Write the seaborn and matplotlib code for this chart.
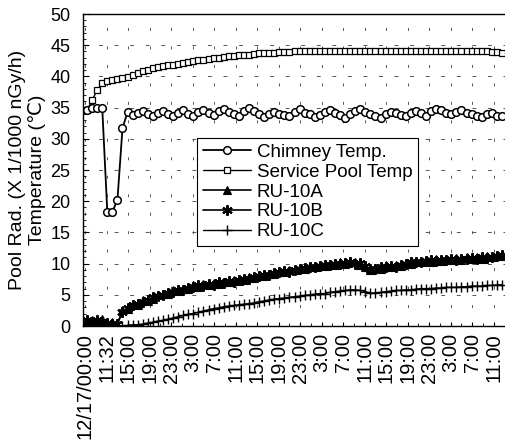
import numpy as np
import matplotlib
matplotlib.use("Agg")
import matplotlib.pyplot as plt
import seaborn as sns
from matplotlib.ticker import MultipleLocator, FixedLocator

# ---------------- data ----------------
tick_labels = ["12/17/00:00", "11:32", "15:00", "19:00", "23:00", "3:00", "7:00",
               "11:00", "15:00", "19:00", "23:00", "3:00", "7:00", "11:00",
               "15:00", "19:00", "23:00", "3:00", "7:00", "11:00"]

series_names = ["Chimney Temp.", "Service Pool Temp", "RU-10A", "RU-10B", "RU-10C"]

chimney = [34.6, 34.9, 34.9, 34.9, 18.3, 18.3, 20.2, 31.7,
           34.3, 33.8, 34.2, 34.4, 33.9, 33.7, 34.1, 34.5, 33.9, 33.6,
           34.2, 34.6, 34.0, 33.7, 34.3, 34.6, 34.1, 33.8, 34.4, 34.8,
           34.3, 34.0, 33.6, 34.5, 34.9, 34.4, 33.9, 33.5, 34.0, 34.3,
           34.0, 33.8, 33.6, 34.3, 34.7, 34.2, 33.9, 33.5, 33.8, 34.3,
           34.6, 34.1, 33.8, 33.4, 34.0, 34.5, 34.8, 34.3, 33.9, 33.7,
           33.4, 33.9, 34.3, 34.1, 33.8, 33.6, 34.2, 34.5, 34.1, 33.7,
           34.4, 34.8, 34.6, 34.2, 33.9, 34.3, 34.6, 34.2, 33.9, 33.6,
           33.5, 33.9, 34.1, 33.7, 33.6]

service_pool = [34.6, 36.2, 37.8, 38.9, 39.3, 39.4, 39.6, 39.8,
                39.9, 40.2, 40.5, 40.8, 41.0, 41.3, 41.5, 41.6, 41.8, 41.9,
                42.0, 42.1, 42.3, 42.4, 42.6, 42.7, 42.8, 42.9, 43.0, 43.1,
                43.2, 43.3, 43.4, 43.5, 43.5, 43.6, 43.7, 43.7, 43.8, 43.8,
                43.9, 43.9, 43.9, 44.0, 44.0, 44.0, 44.1, 44.1, 44.1, 44.0,
                44.1, 44.1, 44.0, 44.1, 44.1, 44.1, 44.0, 44.1, 44.1, 44.0,
                44.1, 44.1, 44.0, 44.1, 44.0, 44.1, 44.1, 44.0, 44.1, 44.0,
                44.1, 44.0, 44.1, 44.1, 44.0, 44.0, 44.1, 44.0, 44.0, 44.1,
                44.0, 44.0, 43.9, 43.9, 43.8]

ru10a = [0.6, 1.0, 0.7, 1.1, 0.4, 0.6, 0.2,
         2.6, 2.7, 3.5, 3.4, 4.1, 4.0, 4.4, 5.0, 5.2, 5.1,
         5.7, 5.6, 6.0, 5.9, 6.5, 6.3, 6.7, 6.6, 6.9, 6.8,
         7.1, 7.0, 7.3, 7.2, 7.4, 7.8, 7.7, 8.2, 8.0, 8.4,
         8.3, 8.7, 8.6, 9.0, 8.9, 9.3, 9.2, 9.6, 9.4, 9.8,
         9.6, 10.0, 9.8, 10.2, 10.0, 10.3, 10.2, 9.8, 9.4, 9.0,
         9.3, 9.2, 9.7, 9.4, 9.8, 9.6, 10.1, 10.0, 10.4, 10.3,
         10.6, 10.3, 10.7, 10.4, 10.8, 10.5, 10.9, 10.6, 11.0, 10.7,
         11.1, 10.8, 11.2, 11.0, 11.4, 11.3]

ru10b = [0.9, 0.6, 1.0, 0.7, 0.5, 0.3, 0.4,
         2.3, 2.9, 3.3, 3.6, 3.9, 4.2, 4.6, 4.8, 5.0, 5.3,
         5.5, 5.8, 5.7, 6.1, 6.3, 6.5, 6.4, 6.8, 6.6, 7.0,
         6.9, 7.2, 7.0, 7.4, 7.6, 7.5, 7.9, 8.0, 8.2, 8.1,
         8.5, 8.6, 8.8, 8.7, 9.0, 9.1, 9.3, 9.4, 9.5, 9.6,
         9.8, 9.7, 9.9, 10.0, 10.1, 10.2, 10.0, 10.1, 9.6, 9.2,
         9.1, 9.4, 9.5, 9.6, 9.5, 9.8, 9.9, 10.2, 10.3, 10.2,
         10.4, 10.5, 10.4, 10.6, 10.5, 10.7, 10.6, 10.8, 10.7, 10.9,
         10.8, 11.0, 10.9, 11.1, 11.2, 11.4]

ru10c = [0.2, 0.1, 0.0, 0.1, 0.0, 0.1, 0.0, 0.0,
         0.1, 0.2, 0.2, 0.3, 0.5, 0.6, 0.8, 0.9, 1.1, 1.3,
         1.5, 1.7, 1.9, 2.0, 2.2, 2.4, 2.6, 2.8, 2.9, 3.1,
         3.2, 3.3, 3.4, 3.5, 3.6, 3.7, 3.9, 4.0, 4.2, 4.3,
         4.4, 4.5, 4.6, 4.7, 4.8, 4.9, 5.0, 5.1, 5.2, 5.2,
         5.4, 5.5, 5.6, 5.7, 5.8, 5.8, 5.7, 5.5, 5.3, 5.3,
         5.4, 5.5, 5.6, 5.7, 5.7, 5.8, 5.8, 5.9, 6.0, 6.0,
         6.0, 6.1, 6.1, 6.2, 6.2, 6.2, 6.3, 6.3, 6.4, 6.4,
         6.4, 6.5, 6.5, 6.6, 6.6]

# ---------------- layout params ----------------
TICK_STEP = 4.25      # samples per labelled category tick
TICK_OFFSET = -0.4

sns.set_style("white")
plt.rcParams["font.family"] = ["Liberation Sans", "DejaVu Sans"]
plt.rcParams["text.color"] = "black"
plt.rcParams["axes.labelcolor"] = "black"
plt.rcParams["xtick.color"] = "black"
plt.rcParams["ytick.color"] = "black"

fig = plt.figure(figsize=(5.05, 4.42), dpi=100)
ax = fig.add_axes([0.1644, 0.2624, 0.8356, 0.7059])

def xs(vals):
    return np.arange(len(vals))

# grid
ax.set_axisbelow(True)
ax.yaxis.grid(True, which="major", linestyle=(0, (4, 12)), color="#555555", lw=0.7)
ax.xaxis.grid(True, which="major", linestyle=(0, (3, 16)), color="#555555", lw=0.7)

sns.lineplot(x=xs(ru10c), y=ru10c, ax=ax, color="black", lw=1.0, marker="+",
             markersize=6.5, markeredgewidth=1.0, markeredgecolor="black",
             label=series_names[4])
sns.lineplot(x=xs(ru10b), y=ru10b, ax=ax, color="black", lw=1.2, marker=(6, 2, 0),
             markersize=7.5, markeredgewidth=1.5, markeredgecolor="black",
             label=series_names[3])
sns.lineplot(x=xs(ru10a), y=ru10a, ax=ax, color="black", lw=1.2, marker="^",
             markersize=5.5, markeredgewidth=0.8, markeredgecolor="black",
             markerfacecolor="black", label=series_names[2])
sns.lineplot(x=xs(service_pool), y=service_pool, ax=ax, color="black", lw=1.0,
             marker="s", markersize=5, markeredgewidth=0.9,
             markeredgecolor="black", markerfacecolor="white",
             label=series_names[1])
sns.lineplot(x=xs(chimney), y=chimney, ax=ax, color="black", lw=1.3,
             marker="o", markersize=5.5, markeredgewidth=1.1,
             markeredgecolor="black", markerfacecolor="white",
             label=series_names[0])

# axes
ax.set_xlim(-0.8, 82.6)
ax.set_ylim(0, 50)
tick_pos = TICK_OFFSET + TICK_STEP * np.arange(len(tick_labels))
ax.xaxis.set_major_locator(FixedLocator(tick_pos))
ax.set_xticklabels(tick_labels, rotation=90, fontsize=14.5)
ax.xaxis.set_minor_locator(FixedLocator(tick_pos[:-1] + TICK_STEP / 2))
ax.yaxis.set_major_locator(MultipleLocator(5))
ax.yaxis.set_minor_locator(MultipleLocator(1))
ax.tick_params(axis="y", which="major", direction="in", length=4, width=0.8,
               labelsize=13, pad=9, left=True, colors="black")
ax.tick_params(axis="y", which="minor", direction="in", length=2.5, width=0.6, left=True)
ax.tick_params(axis="x", which="major", direction="in", length=3, width=0.8,
               pad=5, bottom=True, colors="black")
ax.tick_params(axis="x", which="minor", direction="in", length=2, width=0.6, bottom=True)

ax.set_xlabel("")
ax.set_ylabel("Pool Rad. (X 1/1000 nGy/h)\nTemperature (\u2103)", fontsize=14,
              labelpad=3, linespacing=1.15, color="black")

for side in ["top", "left", "bottom"]:
    ax.spines[side].set_color("black")
    ax.spines[side].set_linewidth(1.0)
ax.spines["right"].set_visible(False)

handles, labels = ax.get_legend_handles_labels()
order = [labels.index(n) for n in series_names]
leg = ax.legend([handles[i] for i in order], [labels[i] for i in order],
                loc="upper left", bbox_to_anchor=(0.27, 0.603), borderaxespad=0,
                frameon=True, fancybox=False, edgecolor="black", facecolor="white",
                framealpha=1, fontsize=13.5, handlelength=2.6, labelspacing=0.15,
                borderpad=0.3, handletextpad=0.3)
leg.get_frame().set_linewidth(0.8)
for t in leg.get_texts():
    t.set_color("black")

fig.savefig("out.png", dpi=100)
